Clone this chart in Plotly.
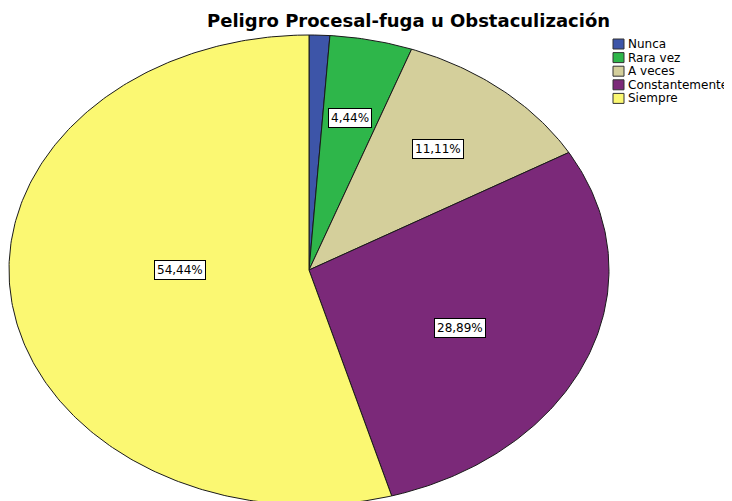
import numpy as np
import plotly.graph_objects as go

categorias = ["Nunca", "Rara vez", "A veces", "Constantemente", "Siempre"]
frecuencias = [1, 4, 10, 26, 49]
colores = ["#3D55A8", "#2EB64A", "#D4CF9B", "#7B2979", "#FBF872"]
titulo = "Peligro Procesal-fuga u Obstaculización"

# geometria del pastel (estirado en horizontal como en el original)
cx, cy = 309, 270
rx, ry = 300, 235
# posicion de cada etiqueta: fraccion del radio y giro (grados); None = sin etiqueta
pos_etiqueta = [None, 0.66, 0.67, 0.56, 0.43]
giro_etiqueta = [0, 0, 0, 4, 8]

# la pagina tiene 8px de margen en body: se compensa con el rango de ejes
off = 8
W, H = 732, 501

total = sum(frecuencias)

fig = go.Figure()
acum = 0.0
for nombre, v, color, fr, g in zip(categorias, frecuencias, colores,
                                   pos_etiqueta, giro_etiqueta):
    a0 = acum / total * 2 * np.pi
    acum += v
    a1 = acum / total * 2 * np.pi
    t = np.linspace(a0, a1, max(int((a1 - a0) * 80), 4))
    xs = np.concatenate([[cx], cx + rx * np.sin(t), [cx]])
    ys = np.concatenate([[cy], cy - ry * np.cos(t), [cy]])
    fig.add_trace(go.Scatter(
        x=xs, y=ys, mode="lines", fill="toself", fillcolor=color,
        line=dict(color="#1a1a1a", width=1), name=nombre,
        hoverinfo="name", showlegend=False,
    ))
    if fr is not None:
        am = (a0 + a1) / 2 + np.radians(g)
        texto = f"{v / total * 100:.2f}%".replace(".", ",")
        fig.add_annotation(
            x=cx + fr * rx * np.sin(am), y=cy - fr * ry * np.cos(am),
            text=texto, showarrow=False,
            font=dict(family="DejaVu Sans", size=12, color="black"),
            bgcolor="white", bordercolor="black", borderwidth=1, borderpad=2,
        )

# leyenda dibujada a mano (cuadros compactos como SPSS)
for i, (nombre, color) in enumerate(zip(categorias, colores)):
    yc = 44 + i * 13.6
    fig.add_shape(type="rect", xref="x", yref="y",
                  x0=613, x1=624, y0=yc - 5, y1=yc + 5,
                  fillcolor=color, line=dict(color="#333333", width=1))
    fig.add_annotation(x=626, y=yc, xanchor="left", yanchor="middle",
                       text=nombre, showarrow=False,
                       font=dict(family="DejaVu Sans", size=12, color="black"))

fig.add_annotation(x=408, y=20, text=f"<b>{titulo}</b>", showarrow=False,
                   font=dict(family="DejaVu Sans", size=18, color="black"))

fig.update_xaxes(range=[off, W], visible=False, fixedrange=True)
fig.update_yaxes(range=[H, off], visible=False, fixedrange=True)
fig.update_layout(
    width=W - off, height=H - off,
    margin=dict(l=0, r=0, t=0, b=0),
    plot_bgcolor="white", paper_bgcolor="white",
)

fig.write_html("out.html")
